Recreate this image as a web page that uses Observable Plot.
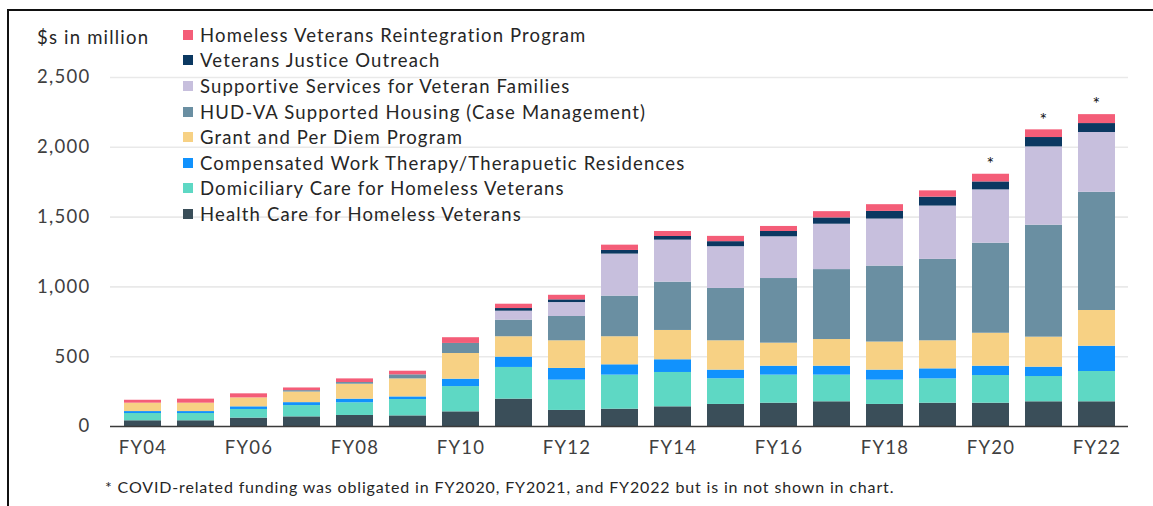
<!DOCTYPE html>
<html><head><meta charset="utf-8">
<script src="https://cdn.jsdelivr.net/npm/d3@7"></script>
<script src="https://cdn.jsdelivr.net/npm/@observablehq/plot@0.6"></script>
<style>
body{margin:0;background:#fff;font-family:Lato,"Open Sans",sans-serif;}
#wrap{position:relative;width:1153px;height:506px;overflow:hidden;background:#fff;}
#frame{position:absolute;left:7px;top:9px;width:1200px;height:600px;border-left:2px solid #111;border-top:2px solid #111;pointer-events:none;}
#chart{position:absolute;left:0;top:0;}
#ylab{position:absolute;left:37px;top:26px;font-size:18.5px;letter-spacing:1.2px;color:#262626;white-space:nowrap;}
#legend{position:absolute;left:183px;top:22px;}
.row{height:25.6px;display:flex;align-items:center;font-size:18.5px;letter-spacing:1.15px;color:#262626;white-space:nowrap;}
.sw{width:10px;height:10px;margin-right:7px;flex:none;}
#note{position:absolute;left:105px;top:477px;font-size:16px;letter-spacing:0.85px;color:#262626;white-space:nowrap;}
svg text{letter-spacing:1.3px;}
</style></head>
<body><div id="wrap"><div id="chart"></div><div id="ylab">$s in million</div><div id="legend"></div><div id="note"></div><div id="frame"></div></div>
<script>
const years = ["FY04","FY05","FY06","FY07","FY08","FY09","FY10","FY11","FY12","FY13","FY14","FY15","FY16","FY17","FY18","FY19","FY20","FY21","FY22"];
const programs = ["Health Care for Homeless Veterans","Domiciliary Care for Homeless Veterans","Compensated Work Therapy/Therapuetic Residences","Grant and Per Diem Program","HUD-VA Supported Housing (Case Management)","Supportive Services for Veteran Families","Veterans Justice Outreach","Homeless Veterans Reintegration Program"];
const colors = ["#3A4E59","#5ED8C4","#1192FD","#F7D184","#6A8FA2","#C7BFDD","#0B3861","#F45D78"];
const hchv    = [41,41,60,69,79,76,105,196,115,124,141,158,167,177,158,167,167,177,177];
const dom     = [52,52,62,81,91,117,181,227,217,244,246,184,201,191,174,174,198,181,217];
const cwt     = [14,14,19,21,26,19,53,74,84,74,91,62,64,64,72,72,67,67,181];
const gpd     = [60,60,64,76,107,129,184,146,198,201,210,210,165,191,201,201,236,215,256];
const hudvash = [0,0,0,10,12,29,72,119,174,291,346,375,463,501,544,583,645,802,847];
const ssvf    = [0,0,0,0,0,0,0,64,100,301,301,299,299,325,337,382,382,561,428];
const vjo     = [0,0,0,0,0,0,0,19,19,26,26,36,38,45,55,64,57,67,64];
const hvrp    = [21,29,29,19,26,26,41,31,33,38,36,38,36,45,48,45,55,55,64];
const yTicks = [0,500,1000,1500,2000,2500];
const asteriskYears = ["FY20","FY21","FY22"];
const footnote = "* COVID-related funding was obligated in FY2020, FY2021, and FY2022 but is in not shown in chart.";

const seriesValues = [hchv,dom,cwt,gpd,hudvash,ssvf,vjo,hvrp];
const data = [];
programs.forEach((p,k)=>years.forEach((y,i)=>data.push({year:y,program:p,value:seriesValues[k][i]})));
const totals = years.map((y,i)=>({year:y,total:seriesValues.reduce((a,s)=>a+s[i],0)}));

const chart = Plot.plot({
  width:1153, height:462,
  marginLeft:110, marginRight:25, marginTop:77, marginBottom:36,
  style:{fontFamily:"Lato, 'Open Sans', sans-serif", fontSize:"18.5px", color:"#404040", background:"transparent"},
  x:{domain:years, paddingInner:0.31, paddingOuter:0.17, label:null, tickSize:0, tickPadding:14, tickFormat:(d,i)=> i%2===0 ? d : ""},
  y:{domain:[0,2500], ticks:yTicks, tickFormat:d3.format(","), label:null, tickSize:0, tickPadding:20},
  color:{domain:programs, range:colors},
  marks:[
    Plot.gridY(yTicks.slice(1), {stroke:"#e9e9e9", strokeOpacity:1, strokeWidth:1.6}),
    Plot.barY(data, {x:"year", y:"value", fill:"program"}),
    Plot.ruleY([0], {stroke:"#3a3a3a", strokeWidth:1.5}),
    Plot.text(totals.filter(d=>asteriskYears.includes(d.year)), {x:"year", y:"total", text:()=>"*", dy:-10, fontSize:18, fill:"#111"})
  ]
});
document.getElementById("chart").appendChild(chart);

const legend = document.getElementById("legend");
programs.slice().reverse().forEach((p)=>{
  const k = programs.indexOf(p);
  const row = document.createElement("div"); row.className="row";
  const sw = document.createElement("div"); sw.className="sw"; sw.style.background=colors[k];
  const t = document.createElement("span"); t.textContent=p;
  row.appendChild(sw); row.appendChild(t); legend.appendChild(row);
});
document.getElementById("note").textContent = footnote;
</script>
</body></html>
